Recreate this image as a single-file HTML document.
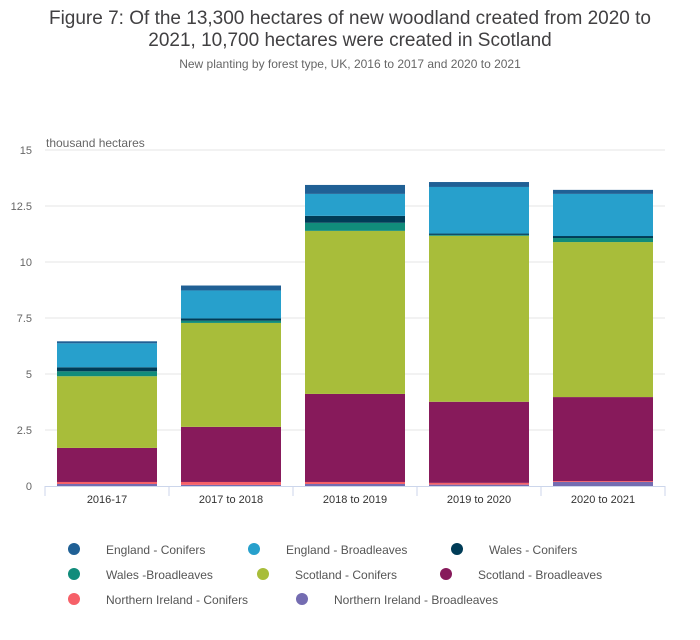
<!DOCTYPE html>
<html><head><meta charset="utf-8"><style>
body{margin:0;background:#fff;font-family:"Liberation Sans",sans-serif;}
svg text{font-family:"Liberation Sans",sans-serif;}
</style></head><body>
<svg width="700" height="635" id="c">
<text x="350" y="24" text-anchor="middle" font-size="19" fill="#414042">Figure 7: Of the 13,300 hectares of new woodland created from 2020 to</text>
<text x="350" y="46" text-anchor="middle" font-size="19" fill="#414042">2021, 10,700 hectares were created in Scotland</text>
<text x="350" y="68" text-anchor="middle" font-size="12" fill="#666">New planting by forest type, UK, 2016 to 2017 and 2020 to 2021</text>
<text x="46" y="147" font-size="12" fill="#666">thousand hectares</text>
<g id="grid"></g><g id="bars"></g><g id="xaxis"></g><g id="legend"></g>
</svg>
<script>
const categories=["2016-17","2017 to 2018","2018 to 2019","2019 to 2020","2020 to 2021"];
const seriesNames=["Northern Ireland - Broadleaves","Northern Ireland - Conifers","Scotland - Broadleaves","Scotland - Conifers","Wales -Broadleaves","Wales - Conifers","England - Broadleaves","England - Conifers"];
const niBroad=[0.09,0.05,0.09,0.06,0.18];
const niConif=[0.09,0.13,0.09,0.08,0.04];
const scotBroad=[1.52,2.46,3.93,3.62,3.75];
const scotConif=[3.2,4.64,7.28,7.41,6.92];
const walesBroad=[0.22,0.1,0.36,0.04,0.18];
const walesConif=[0.18,0.1,0.31,0.06,0.09];
const engBroad=[1.07,1.25,0.98,2.08,1.88];
const engConif=[0.09,0.22,0.4,0.22,0.18];
const yTicks=[0,2.5,5,7.5,10,12.5,15];
const yTickLabels=["0","2.5","5","7.5","10","12.5","15"];
const series=[niBroad,niConif,scotBroad,scotConif,walesBroad,walesConif,engBroad,engConif];
const colors=["#746cb1","#f66068","#871a5b","#a8bd3a","#118c7b","#003c57","#27a0cc","#206095"];
const NS="http://www.w3.org/2000/svg";
const x0=45,x1=665,yb=486,yt=150,yMax=15;
const y=v=>yb-(v/yMax)*(yb-yt);
const bw=(x1-x0)/categories.length;
const xc=i=>x0+bw*(i+0.5);
function mk(t,a,p){const e=document.createElementNS(NS,t);for(const k in a)e.setAttribute(k,a[k]);p.appendChild(e);return e;}
const grid=document.getElementById('grid');
yTicks.forEach((v,i)=>{
 if(v>0){const l=mk('line',{x1:x0,x2:x1,y1:y(v),y2:y(v),stroke:'#e6e6e6'},grid);
 
 }
 const t=mk('text',{x:32,y:y(v)+4,'text-anchor':'end','font-size':11,fill:'#666'},grid);
 t.textContent=yTickLabels[i];
 
 
});
const bars=document.getElementById('bars');
categories.forEach((c,i)=>{
 let acc=0;
 series.forEach((s,j)=>{
  const r=mk('rect',{x:xc(i)-50,width:100,y:y(acc+s[i]),height:y(acc)-y(acc+s[i]),fill:colors[j]},bars);
  
  
  acc+=s[i];
 });
});
const xa=document.getElementById('xaxis');
mk('line',{x1:x0,x2:x1,y1:yb+0.5,y2:yb+0.5,stroke:'#ccd6eb'},xa);
for(let i=0;i<=categories.length;i++){mk('line',{x1:x0+bw*i,x2:x0+bw*i,y1:yb,y2:yb+10,stroke:'#ccd6eb'},xa);}
categories.forEach((c,i)=>{
 const t=mk('text',{x:xc(i),y:503,'text-anchor':'middle','font-size':11,fill:'#333'},xa);
 t.textContent=c;
 
 
});
const lg=document.getElementById('legend');
const items=[["England - Conifers",7,74,549],["England - Broadleaves",6,254,549],["Wales - Conifers",5,457,549],
["Wales -Broadleaves",4,74,574],["Scotland - Conifers",3,263,574],["Scotland - Broadleaves",2,446,574],
["Northern Ireland - Conifers",1,74,599],["Northern Ireland - Broadleaves",0,302,599]];
items.forEach(it=>{
 const g=mk('g',{},lg);
 
 
 mk('circle',{cx:it[2],cy:it[3],r:6,fill:colors[it[1]]},g);
 const t=mk('text',{x:it[2]+32,y:it[3]+5,'font-size':12,fill:'#555'},g);
 t.textContent=it[0];
});
</script>
</body></html>
